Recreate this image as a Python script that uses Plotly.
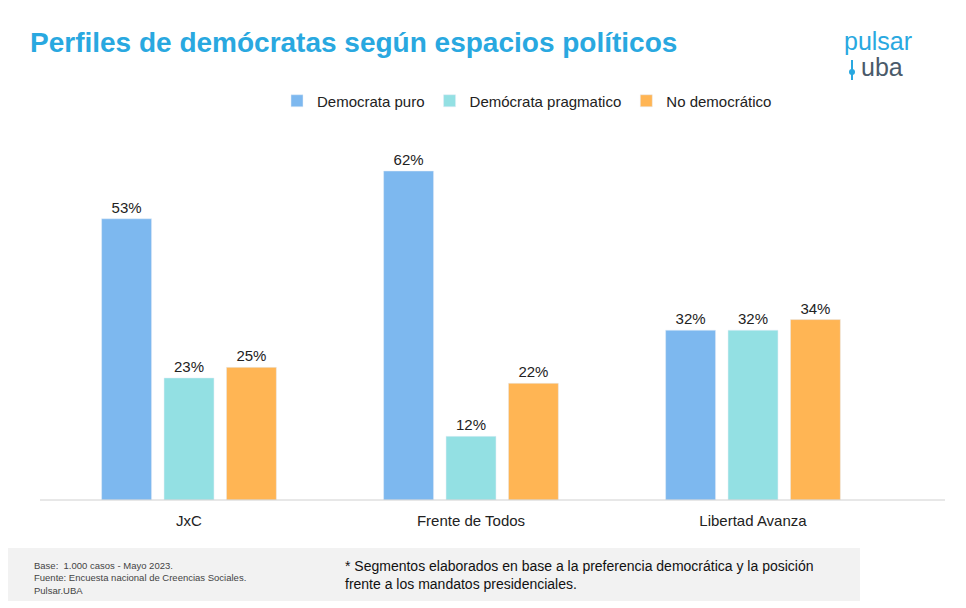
import plotly.graph_objects as go

categories = ["JxC", "Frente de Todos", "Libertad Avanza"]
series = ["Democrata puro", "Demócrata pragmatico", "No democrático"]
values = [[53, 62, 32], [23, 12, 32], [25, 22, 34]]
colors = ["#7db8ef", "#93e0e3", "#ffb554"]

W, H, L, R, T, B = 966, 608, 40, 80, 112, 116
OFF = 8   # vertical render offset
XOFF = 8  # horizontal render offset
def xp(px): return (px - XOFF - L) / (W - L - R)
def yp(py): return (H - B - (py - OFF)) / (H - T - B)

top = 62 * (H - B - T) / ((H - B) - (171 - OFF))

fig = go.Figure()
for name, vals, c in zip(series, values, colors):
    fig.add_trace(go.Bar(x=categories, y=vals, name=name, marker_color=c,
                         text=[f"{v}%" for v in vals], textposition="outside",
                         textfont=dict(size=15, color="#222"), cliponaxis=False))

fig.update_layout(
    width=W, height=H, paper_bgcolor="white", plot_bgcolor="white",
    margin=dict(l=L, r=R, t=T, b=B),
    barmode="group", bargap=0.336, bargroupgap=0.2,
    font=dict(family="Liberation Sans, Arial", color="#222"),
    showlegend=True,
    legend=dict(orientation="h", x=xp(527), xanchor="center", y=yp(101), yanchor="middle",
                font=dict(size=15), itemwidth=30, traceorder="normal"),
    xaxis=dict(showline=False, tickfont=dict(size=15), ticks="", ticklabelstandoff=10),
    yaxis=dict(range=[0, top], visible=False),
    shapes=[
        dict(type="line", xref="paper", yref="paper", x0=xp(40), x1=xp(945), y0=yp(500), y1=yp(500),
             line=dict(color="#d0d0d0", width=1)),
        dict(type="rect", xref="paper", yref="paper", x0=xp(0), x1=xp(945), y0=yp(548), y1=yp(601),
             fillcolor="#f2f2f2", line=dict(width=0), layer="below"),
        dict(type="rect", xref="paper", yref="paper", x0=xp(860), x1=xp(945), y0=yp(548), y1=yp(601),
             fillcolor="white", line=dict(width=0)),
        dict(type="line", xref="paper", yref="paper", x0=xp(852), x1=xp(852), y0=yp(60), y1=yp(80),
             line=dict(color="#29a8e0", width=2)),
        dict(type="circle", xref="paper", yref="paper", x0=xp(849), x1=xp(855), y0=yp(69), y1=yp(75),
             fillcolor="#29a8e0", line=dict(width=0)),
    ],
    annotations=[
        dict(text="<b>Perfiles de demócratas según espacios políticos</b>", xref="paper", yref="paper",
             x=xp(28), y=yp(42), xanchor="left", yanchor="middle", showarrow=False,
             font=dict(size=28, color="#29a8e0")),
        dict(text="pulsar", xref="paper", yref="paper", x=xp(878), y=yp(41), xanchor="center",
             yanchor="middle", showarrow=False, font=dict(size=25, color="#29a8e0")),
        dict(text="uba", xref="paper", yref="paper", x=xp(882), y=yp(67), xanchor="center",
             yanchor="middle", showarrow=False, font=dict(size=25, color="#4a5a6a")),
        dict(text="Base:  1.000 casos - Mayo 2023.<br>Fuente: Encuesta nacional de Creencias Sociales.<br>Pulsar.UBA",
             xref="paper", yref="paper", x=xp(32), y=yp(578), xanchor="left", yanchor="middle",
             align="left", showarrow=False, font=dict(size=9.5, color="#444")),
        dict(text="* Segmentos elaborados en base a la preferencia democrática y la posición<br>frente a los mandatos presidenciales.",
             xref="paper", yref="paper", x=xp(343), y=yp(575), xanchor="left", yanchor="middle",
             align="left", showarrow=False, font=dict(size=14, color="#111")),
    ],
)
fig.write_html("out.html")
